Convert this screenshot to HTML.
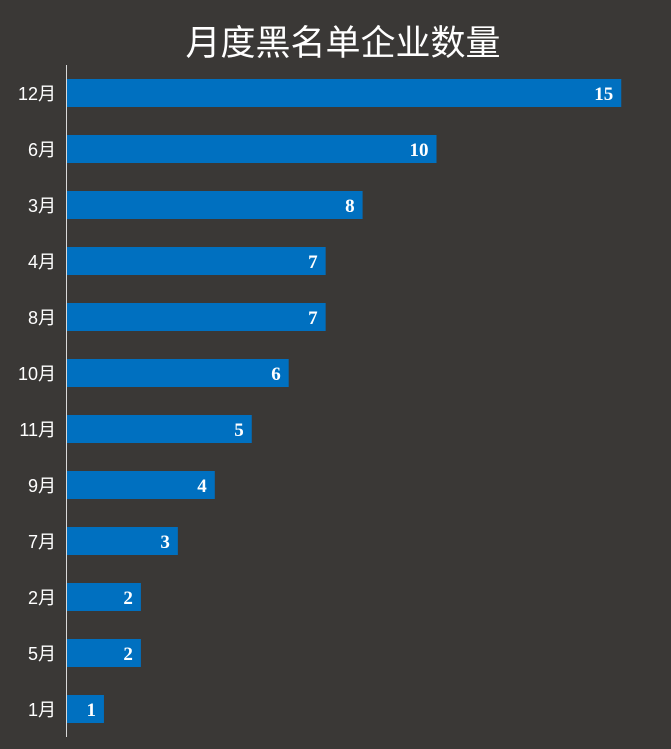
<!DOCTYPE html>
<html><head><meta charset="utf-8"><style>
html,body{margin:0;padding:0;background:#3a3836;}
svg{display:block}
</style></head><body>
<svg id="chart" width="671" height="749" xmlns="http://www.w3.org/2000/svg">
<rect x="0" y="0" width="671" height="749" fill="#3a3836"/>
<text x="343" y="55" text-anchor="middle" font-family="'Liberation Sans','Noto Sans CJK SC',sans-serif" font-size="35" fill="#ffffff">月度黑名单企业数量</text>
<line x1="66.5" y1="65" x2="66.5" y2="737" stroke="#d9d9d9" stroke-width="1"/>
<g id="bars"></g>
</svg>
<script>
const categories = ["12月","6月","3月","4月","8月","10月","11月","9月","7月","2月","5月","1月"];
const values = [15,10,8,7,7,6,5,4,3,2,2,1];
const x0 = 67, unit = 36.95, top0 = 93, step = 56, bh = 28;
const xScale = v => x0 + v * unit;
const yScale = i => top0 + i * step;
const g = document.getElementById('bars');
const NS = 'http://www.w3.org/2000/svg';
categories.forEach((c, i) => {
  const cy = yScale(i);
  const r = document.createElementNS(NS, 'rect');
  
  
  r.setAttribute('x', x0); r.setAttribute('y', cy - bh / 2);
  r.setAttribute('width', xScale(values[i]) - x0); r.setAttribute('height', bh);
  r.setAttribute('fill', '#0070c0');
  g.appendChild(r);
  const t = document.createElementNS(NS, 'text');
  
  
  t.setAttribute('x', 56); t.setAttribute('y', cy + 7);
  t.setAttribute('text-anchor', 'end');
  t.setAttribute('font-family', "'Liberation Sans','Noto Sans CJK SC',sans-serif");
  t.setAttribute('font-size', '18'); t.setAttribute('fill', '#ffffff');
  t.textContent = c; g.appendChild(t);
  const v = document.createElementNS(NS, 'text');
  
  
  v.setAttribute('x', xScale(values[i]) - 8); v.setAttribute('y', cy + 7);
  v.setAttribute('text-anchor', 'end');
  v.setAttribute('font-family', "'Liberation Serif',serif");
  v.setAttribute('font-weight', 'bold');
  v.setAttribute('font-size', '19'); v.setAttribute('fill', '#ffffff');
  v.textContent = values[i]; g.appendChild(v);
});
</script>
</body></html>
